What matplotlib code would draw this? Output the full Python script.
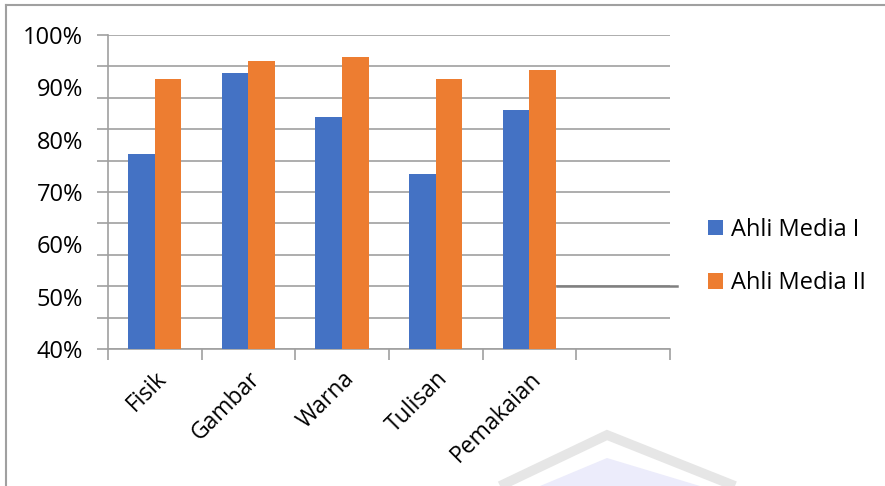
import numpy as np
import matplotlib.pyplot as plt
from matplotlib.lines import Line2D
from matplotlib.patches import Polygon

categories = ['Fisik', 'Gambar', 'Warna', 'Tulisan', 'Pemakaian']
media1 = [77.3, 92.8, 84.3, 73.4, 85.7]
media2 = [91.6, 95.0, 95.8, 91.6, 93.3]
series_names = ['Ahli Media I', 'Ahli Media II']
label_ticks = [40, 50, 60, 70, 80, 90, 100]
grid_ticks = np.arange(40, 101, 6)

plt.rcParams['font.family'] = ['Open Sans', 'DejaVu Sans']

fig = plt.figure(figsize=(8.85, 4.86), dpi=100)
ax = fig.add_axes([0.122, 0.282, 0.635, 0.646])

x = np.arange(len(categories))
w = 0.285
ax.bar(x - w / 2, media1, w, color='#4472C4', label=series_names[0], zorder=3)
ax.bar(x + w / 2, media2, w, color='#ED7D31', label=series_names[1], zorder=3)

ax.set_xlim(-0.5, len(categories) + 0.5)
ax.set_ylim(40, 100)

# labels every 10%, gridlines every 6% (as in the original Excel chart)
ax.yaxis.remove_overlapping_locs = False
ax.set_yticks(label_ticks)
ax.set_yticklabels(['%d%%' % v for v in label_ticks])
ax.set_yticks(grid_ticks, minor=True)
ax.tick_params(axis='y', which='major', length=0, pad=18, labelsize=17)
ax.tick_params(axis='y', which='minor', length=8, color='#a0a0a0', width=1.2)
ax.yaxis.grid(True, which='minor', color='#a0a0a0', linewidth=1.2, zorder=0)

ax.xaxis.remove_overlapping_locs = False
ax.set_xticks(np.arange(-0.5, len(categories) + 1, 1))
ax.set_xticklabels([])
ax.set_xticks(x, minor=True)
ax.set_xticklabels(categories, minor=True, rotation=45, ha='right',
                   va='top', rotation_mode='anchor', fontsize=16.5)
ax.tick_params(axis='x', which='major', length=8, color='#a0a0a0', width=1.2)
ax.tick_params(axis='x', which='minor', length=0, pad=13)

for s in ['top', 'right']:
    ax.spines[s].set_visible(False)
for s in ['left', 'bottom']:
    ax.spines[s].set_color('#a0a0a0')
    ax.spines[s].set_linewidth(1.2)

# stray darker line on the right
ax.plot([4.29, 5.57], [52, 52], color='#808080', lw=1.8, clip_on=False, zorder=2)

ax.legend(loc='center left', bbox_to_anchor=(0.776, 0.472), bbox_transform=fig.transFigure,
          frameon=False, fontsize=17, handlelength=0.64, handleheight=0.64,
          labelspacing=1.25, handletextpad=0.35)

# chart border (top and left)
fig.add_artist(Line2D([6 / 885, 1], [1 - 5 / 486, 1 - 5 / 486], color='#a0a0a0', lw=1.5))
fig.add_artist(Line2D([6 / 885, 6 / 885], [0, 1 - 5 / 486], color='#a0a0a0', lw=1.5))

# faint watermark at the bottom
fig.add_artist(Polygon([[500 / 885, 0], [607 / 885, 51 / 486], [735 / 885, 0]],
                       closed=False, fill=False, edgecolor='#e6e6e6', lw=7))
fig.add_artist(Polygon([[540 / 885, 0], [607 / 885, 28 / 486], [700 / 885, 0]],
                       closed=True, facecolor='#ececfb', edgecolor='none'))

fig.savefig('out.png', dpi=100)
